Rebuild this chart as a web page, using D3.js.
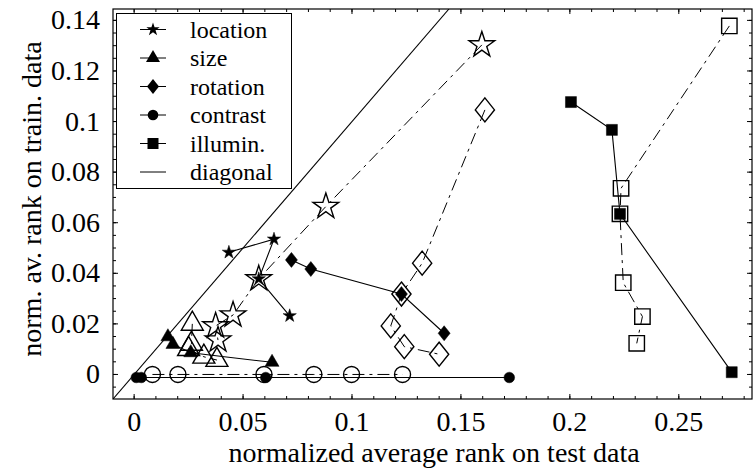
<!DOCTYPE html>
<html>
<head>
<meta charset="utf-8">
<script src="https://cdnjs.cloudflare.com/ajax/libs/d3/7.8.5/d3.min.js"></script>
<style>
  body { margin: 0; background: #fff; }
  svg { display: block; }
</style>
</head>
<body>
<svg id="chart" width="755" height="469"></svg>
<script>
// location (stars): filled = solid line, open = dash-dot line
const locFilledX = [0.0435, 0.0642, 0.0572, 0.0714];
const locFilledY = [0.0483, 0.0535, 0.0378, 0.0232];
const locOpenX = [0.1596, 0.0880, 0.0572, 0.0454, 0.0374, 0.0385];
const locOpenY = [0.1303, 0.0664, 0.0378, 0.0235, 0.0192, 0.0136];

// size (triangles)
const sizeFilledX = [0.0155, 0.0178, 0.0260, 0.0633];
const sizeFilledY = [0.0149, 0.0119, 0.0086, 0.0048];
const sizeOpenX = [0.0267, 0.0263, 0.0250, 0.0320, 0.0380];
const sizeOpenY = [0.0200, 0.0121, 0.0100, 0.0070, 0.0057];

// rotation (diamonds)
const rotFilledX = [0.0722, 0.0811, 0.1227, 0.1423];
const rotFilledY = [0.0453, 0.0417, 0.0318, 0.0163];
const rotOpenX = [0.1610, 0.1322, 0.1227, 0.1178, 0.1240, 0.1400];
const rotOpenY = [0.1046, 0.0440, 0.0318, 0.0192, 0.0110, 0.0080];

// contrast (circles)
const conFilledX = [0.0010, 0.0033, 0.0604, 0.1722];
const conFilledY = [-0.0012, -0.0012, -0.0012, -0.0012];
const conOpenX = [0.0084, 0.0201, 0.0596, 0.0825, 0.0998, 0.1232];
const conOpenY = [0, 0, 0, 0, 0, 0];

// illumination (squares)
const illFilledX = [0.2005, 0.2193, 0.2230, 0.2743];
const illFilledY = [0.1077, 0.0967, 0.0635, 0.0009];
const illOpenX = [0.2732, 0.2235, 0.2230, 0.2245, 0.2333, 0.2307];
const illOpenY = [0.1378, 0.0736, 0.0635, 0.0363, 0.0229, 0.0123];

const xTickValues = [0, 0.05, 0.1, 0.15, 0.2, 0.25];
const xTickLabels = ["0", "0.05", "0.1", "0.15", "0.2", "0.25"];
const yTickValues = [0, 0.02, 0.04, 0.06, 0.08, 0.1, 0.12, 0.14];
const yTickLabels = ["0", "0.02", "0.04", "0.06", "0.08", "0.1", "0.12", "0.14"];
const legendLabels = ["location", "size", "rotation", "contrast", "illumin.", "diagonal"];

const FONT = "'Liberation Serif'";

const svg = d3.select('#chart');
const plot = { left: 113, right: 752, top: 9, bottom: 399 };

const x = d3.scaleLinear().domain([-0.0097, 0.2836]).range([plot.left, plot.right]);
const y = d3.scaleLinear().domain([-0.0097, 0.1445]).range([plot.bottom, plot.top]);

// marker shapes, r in pixels
function shapePath(shape, r) {
    if (shape === 'star') return d3.symbol(d3.symbolStar, r * r / 0.8908130915292852)();
    if (shape === 'triangle') {
        const t = r / Math.sqrt(3);
        return d3.symbol(d3.symbolTriangle, t * t * 3 * Math.sqrt(3))();
    }
    if (shape === 'diamond') {
        const w = r * 0.8;
        return `M0,${-r}L${w},0L0,${r}L${-w},0Z`;
    }
    if (shape === 'circle') return d3.symbol(d3.symbolCircle, Math.PI * r * r)();
    return d3.symbol(d3.symbolSquare, 4 * r * r)();
}

const series = [
    { shape: 'star', fx: locFilledX, fy: locFilledY, ox: locOpenX, oy: locOpenY, fr: 7, or: 13.5 },
    { shape: 'triangle', fx: sizeFilledX, fy: sizeFilledY, ox: sizeOpenX, oy: sizeOpenY, fr: 7, or: 11 },
    { shape: 'diamond', fx: rotFilledX, fy: rotFilledY, ox: rotOpenX, oy: rotOpenY, fr: 7.5, or: 12 },
    { shape: 'circle', fx: conFilledX, fy: conFilledY, ox: conOpenX, oy: conOpenY, fr: 5.3, or: 8 },
    { shape: 'square', fx: illFilledX, fy: illFilledY, ox: illOpenX, oy: illOpenY, fr: 5.5, or: 7.7 }
];

svg.append('clipPath').attr('id', 'clip')
    .append('rect')
    .attr('x', plot.left).attr('y', plot.top)
    .attr('width', plot.right - plot.left).attr('height', plot.bottom - plot.top);

// ticks on all four sides, pointing inward
const minorX = d3.range(0, 0.2836, 0.01);
const minorY = d3.range(-0.005, 0.1445, 0.005);
function tickLines(g, vals, scale, horizontal, pos, dir, len) {
    g.selectAll(null).data(vals).enter().append('line')
        .attr('x1', d => horizontal ? scale(d) : pos)
        .attr('x2', d => horizontal ? scale(d) : pos + dir * len)
        .attr('y1', d => horizontal ? pos : scale(d))
        .attr('y2', d => horizontal ? pos + dir * len : scale(d))
        .attr('stroke', '#000').attr('stroke-width', 1);
}
const ticks = svg.append('g');
tickLines(ticks, minorX, x, true, plot.bottom, -1, 3);
tickLines(ticks, minorX, x, true, plot.top, 1, 3);
tickLines(ticks, xTickValues, x, true, plot.bottom, -1, 5);
tickLines(ticks, xTickValues, x, true, plot.top, 1, 5);
tickLines(ticks, minorY, y, false, plot.left, 1, 3);
tickLines(ticks, minorY, y, false, plot.right, -1, 3);
tickLines(ticks, yTickValues, y, false, plot.left, 1, 5);
tickLines(ticks, yTickValues, y, false, plot.right, -1, 5);

// tick labels
svg.append('g').selectAll('text').data(xTickValues).enter().append('text')
    .attr('x', d => x(d)).attr('y', 431)
    .attr('text-anchor', 'middle').attr('font-size', 28).style('font-family', FONT)
    .text((d, i) => xTickLabels[i]);
svg.append('g').selectAll('text').data(yTickValues).enter().append('text')
    .attr('x', 100).attr('y', d => y(d) + 9)
    .attr('text-anchor', 'end').attr('font-size', 28).style('font-family', FONT)
    .text((d, i) => yTickLabels[i]);

// axis titles
svg.append('text')
    .attr('x', 434).attr('y', 462)
    .attr('text-anchor', 'middle').attr('font-size', 28).style('font-family', FONT)
    .text('normalized average rank on test data');
svg.append('text')
    .attr('transform', `translate(41,${(plot.top + plot.bottom) / 2 - 5}) rotate(-90)`)
    .attr('text-anchor', 'middle').attr('font-size', 28).style('font-family', FONT)
    .text('norm. av. rank on train. data');

const body = svg.append('g').attr('clip-path', 'url(#clip)');

// diagonal
body.append('line')
    .attr('x1', x(-0.0097)).attr('y1', y(-0.0097))
    .attr('x2', x(0.1445)).attr('y2', y(0.1445))
    .attr('stroke', '#000').attr('stroke-width', 1.1);

const line = d3.line().x(d => x(d[0])).y(d => y(d[1]));

series.forEach(s => {
    const filled = s.fx.map((v, i) => [v, s.fy[i]]);
    const open = s.ox.map((v, i) => [v, s.oy[i]]);

    body.append('path').datum(open)
        .attr('d', line).attr('fill', 'none')
        .attr('stroke', '#000').attr('stroke-width', 1)
        .attr('stroke-dasharray', '12,5,3,5');
    body.append('path').datum(filled)
        .attr('d', line).attr('fill', 'none')
        .attr('stroke', '#000').attr('stroke-width', 1.1);

    body.selectAll(null).data(open).enter().append('path')
        .attr('transform', d => `translate(${x(d[0])},${y(d[1])})`)
        .attr('d', shapePath(s.shape, s.or))
        .attr('fill', 'none').attr('stroke', '#000').attr('stroke-width', 1.4);
    body.selectAll(null).data(filled).enter().append('path')
        .attr('transform', d => `translate(${x(d[0])},${y(d[1])})`)
        .attr('d', shapePath(s.shape, s.fr))
        .attr('fill', '#000').attr('stroke', '#000').attr('stroke-width', 0.5);
});

// frame
svg.append('rect')
    .attr('x', plot.left).attr('y', plot.top)
    .attr('width', plot.right - plot.left).attr('height', plot.bottom - plot.top)
    .attr('fill', 'none').attr('stroke', '#000').attr('stroke-width', 1.2);

// legend
const legend = svg.append('g');
legend.append('rect')
    .attr('x', 116.5).attr('y', 13.5).attr('width', 175).attr('height', 175)
    .attr('fill', '#fff').attr('stroke', '#000').attr('stroke-width', 1);
const rows = legend.selectAll('g.row').data(legendLabels).enter().append('g')
    .attr('class', 'row')
    .attr('transform', (d, i) => `translate(0,${29.5 + i * 28.5})`);
rows.append('line')
    .attr('x1', 140).attr('x2', 166).attr('y1', 0).attr('y2', 0)
    .attr('stroke', '#000').attr('stroke-width', 1);
rows.filter((d, i) => i < series.length).append('path')
    .attr('transform', 'translate(153,0)')
    .attr('d', (d, i) => shapePath(series[i].shape, series[i].fr))
    .attr('fill', '#000');
rows.append('text')
    .attr('x', 190).attr('y', 8).attr('font-size', 24).style('font-family', FONT)
    .text(d => d);
</script>
</body>
</html>
